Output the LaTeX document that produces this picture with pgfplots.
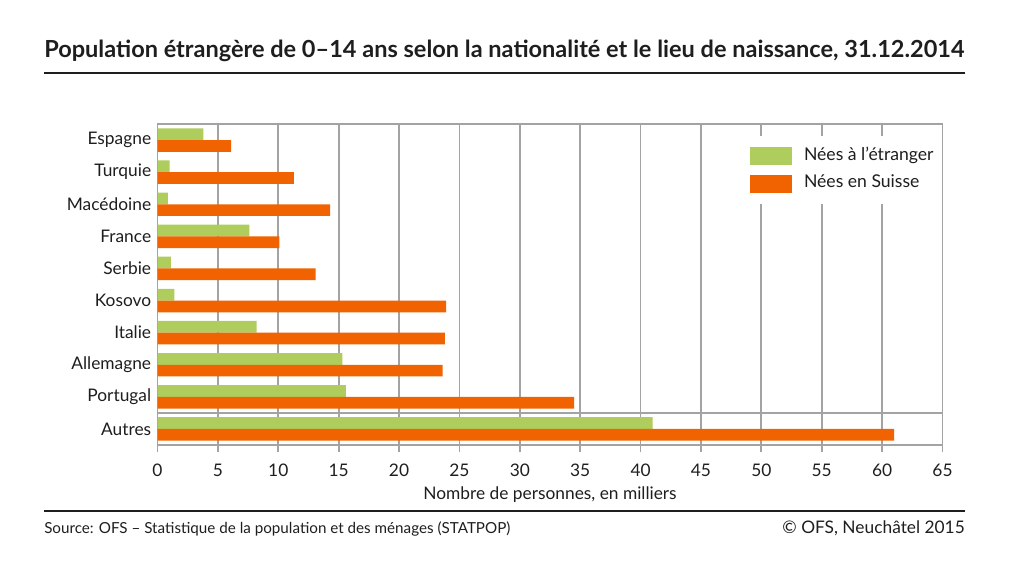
\documentclass[border=0pt]{standalone}
\usepackage{fontspec}
\setmainfont{Lato}
\usepackage{pgfplots}
\pgfplotsset{compat=1.18}
\definecolor{vert}{RGB}{174,205,93}
\definecolor{orangeofs}{RGB}{240,99,0}
\definecolor{grille}{RGB}{163,163,163}
\definecolor{texte}{RGB}{30,30,30}
\newcommand{\fnt}{\fontsize{13pt}{15pt}\selectfont}

\begin{document}
\begin{tikzpicture}
\begin{scope}[x=0.75pt,y=-0.75pt]
\path[use as bounding box] (0,0) rectangle (1009,570);
% titre et filet
\node[anchor=base west, inner sep=0pt, text=texte] at (44,58)
  {\fontsize{17.65pt}{19pt}\selectfont\bfseries Population étrangère de 0–14 ans selon la nationalité et le lieu de naissance, 31.12.2014};
\draw[texte, line width=1.9pt] (44,73) -- (965,73);
% source
\draw[texte, line width=0.8pt] (44,511) -- (965,511);
\node[anchor=base west, inner sep=0pt, text=texte, font=\fontsize{11.4pt}{13pt}\selectfont] at (44,533)
  {Source: OFS – Statistique de la population et des ménages (STATPOP)};
\node[anchor=base east, inner sep=0pt, text=texte, font=\fontsize{13pt}{15pt}\selectfont] at (965,533)
  {© OFS, Neuchâtel 2015};
\end{scope}

\begin{axis}[
  at={(118.125pt,-93pt)}, anchor=north west,
  scale only axis, width=588.75pt, height=240.75pt,
  xbar, bar width=0.365,
  xmin=0, xmax=65, xtick={0,5,...,65},
  ymin=-0.5, ymax=9.5, y dir=reverse,
  ytick={0,...,9},
  yticklabels={Espagne,Turquie,Macédoine,France,Serbie,Kosovo,Italie,Allemagne,Portugal,Autres},
  axis line style={grille, line width=1.3pt},
  xmajorgrids, grid style={grille, line width=1.3pt},
  tick align=outside, xtick pos=bottom, major tick length=5.25pt,
  x tick style={grille, line width=1.3pt},
  y tick style={draw=none},
  tick label style={font=\fnt, text=texte},
  xticklabel style={yshift=-5.25pt},
  yticklabel style={xshift=4pt},
  /pgf/number format/assume math mode=true,
  xlabel={Nombre de personnes, en milliers},
  xlabel style={font=\fnt, text=texte, inner sep=0pt, anchor=base, at={(0.5,0)}, yshift=-40.5pt},
  legend style={at={(1,0.962)}, anchor=north east, draw=none, fill=white,
    font=\fontsize{13.2pt}{15pt}\selectfont, text=texte, inner xsep=6.5pt, inner ysep=8pt,
    nodes={inner sep=0pt, text height=9pt, text depth=3pt},
    row sep=7.3pt,
    /tikz/every odd column/.append style={column sep=9pt}},
  legend cell align=left,
]
\addplot[draw=none, fill=vert, bar shift=-0.1825,
  legend image code/.code={\fill[vert] (0pt,-6.75pt) rectangle (31.5pt,6.75pt);}]
  coordinates {(3.8,0) (1.0,1) (0.85,2) (7.6,3) (1.1,4) (1.4,5) (8.2,6) (15.3,7) (15.6,8) (41.0,9)};
\addplot[draw=none, fill=orangeofs, bar shift=0.1825,
  legend image code/.code={\fill[orangeofs] (0pt,-6.75pt) rectangle (31.5pt,6.75pt);}]
  coordinates {(6.1,0) (11.3,1) (14.3,2) (10.1,3) (13.1,4) (23.9,5) (23.8,6) (23.6,7) (34.5,8) (61.0,9)};
\legend{Nées à l’étranger, Nées en Suisse}
\draw[grille, line width=1.5pt] (axis cs:0,8.5) -- (axis cs:65,8.5);
\end{axis}
\end{tikzpicture}
\end{document}
